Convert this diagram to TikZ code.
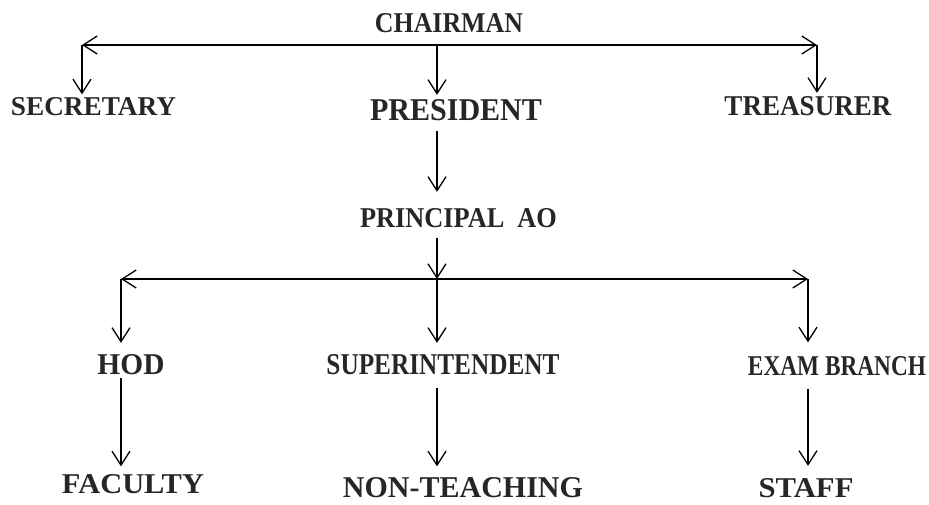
\documentclass[tikz,border=0pt]{standalone}
\usepackage{fontspec}
\setmainfont{Liberation Serif}
\usetikzlibrary{arrows.meta,calc}
\newcommand\fitlabel[3]{\resizebox{#1pt}{#2pt}{\bfseries #3}}
\tikzset{
  lbl/.style={inner sep=0pt, outer sep=0pt, text=black!85},
  conn/.style={line width=1.3pt, draw=black},
  barb/.tip={Straight Barb[length=14pt,width=18pt,line width=1.3pt]},
  arr/.style={conn, -barb},
  darr/.style={conn, barb-barb}
}
\begin{document}
\begin{tikzpicture}[x=1pt,y=-1pt]
\useasboundingbox (0,0) rectangle (929,504);
% labels
\node[lbl] (chair) at (449,23.5) {\fitlabel{148}{19}{CHAIRMAN}};
\node[lbl] (sec)   at (93.5,106.5) {\fitlabel{165}{18}{SECRETARY}};
\node[lbl] (pres)  at (456,110.5) {\fitlabel{172}{21}{PRESIDENT}};
\node[lbl] (treas) at (808,106.5) {\fitlabel{167}{19}{TREASURER}};
\node[lbl] (prin)  at (458.5,218.5) {\fitlabel{197}{19}{PRINCIPAL\ \ AO}};
\node[lbl] (hod)   at (131,365) {\fitlabel{67}{20}{HOD}};
\node[lbl] (sup)   at (443,365) {\fitlabel{233}{20}{SUPERINTENDENT}};
\node[lbl] (exam)  at (837,366) {\fitlabel{178}{19}{EXAM BRANCH}};
\node[lbl] (fac)   at (133,484) {\fitlabel{142}{19}{FACULTY}};
\node[lbl] (nont)  at (463,487.5) {\fitlabel{240}{20}{NON-TEACHING}};
\node[lbl] (staff) at (806,488.5) {\fitlabel{95}{19}{STAFF}};
% junction coordinates
\coordinate (tl) at (82,45);
\coordinate (tm) at (437,45);
\coordinate (tr) at (817,45);
\coordinate (ml) at (121,279);
\coordinate (mm) at (437,279);
\coordinate (mr) at (808,279);
% top level
\draw[darr] (tl) -- (tr);
\draw[arr] (tl) -- ($(tl |- sec.north)+(0,-3)$);
\draw[arr] (tm) -- ($(tm |- pres.north)+(0,-5)$);
\draw[arr] (tr) -- ($(tr |- treas.north)+(0,-4)$);
% president to principal
\draw[arr] ($(tm |- pres.south)+(0,10)$) -- ($(tm |- prin.north)+(0,-17)$);
\draw[arr] ($(mm |- prin.south)+(0,10)$) -- (mm);
% second level
\draw[darr] (ml) -- (mr);
\draw[arr] (ml) -- ($(ml |- hod.north)+(0,-12)$);
\draw[arr] (mm) -- ($(mm |- sup.north)+(0,-12)$);
\draw[arr] (mr) -- ($(mr |- exam.north)+(0,-14)$);
% third level
\draw[arr] ($(ml |- hod.south)+(0,3)$) -- ($(ml |- fac.north)+(0,-8)$);
\draw[arr] ($(mm |- sup.south)+(0,13)$) -- ($(mm |- nont.north)+(0,-11)$);
\draw[arr] ($(mr |- exam.south)+(0,13)$) -- ($(mr |- staff.north)+(0,-13)$);
\end{tikzpicture}
\end{document}
